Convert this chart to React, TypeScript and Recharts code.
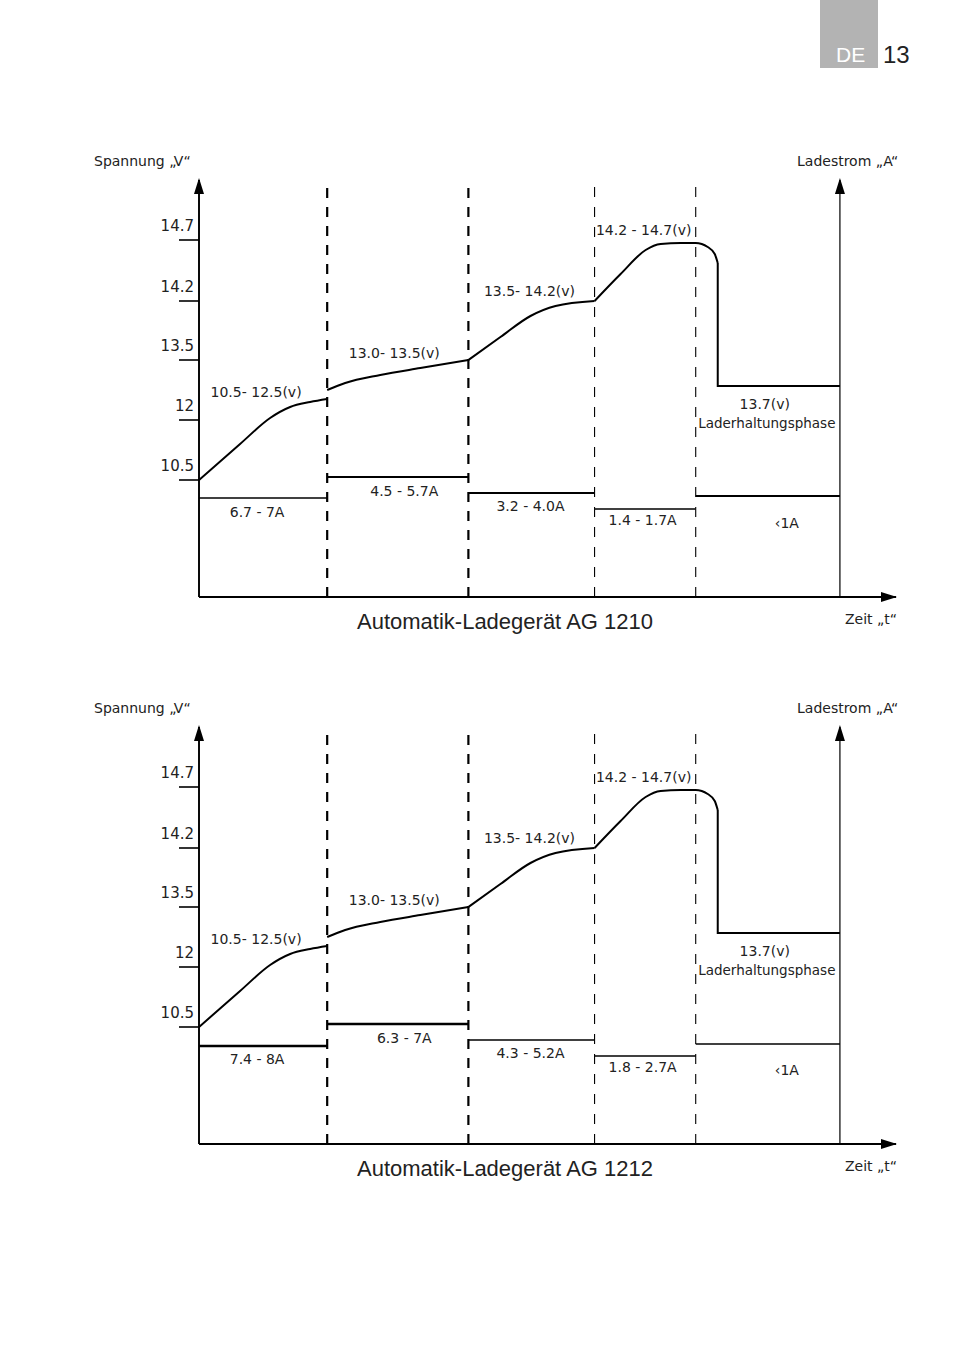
import React from 'react';
import { ComposedChart, Line, XAxis, YAxis, ReferenceLine, ReferenceDot } from 'recharts';

// time axis: 0..696, voltage/current level: 0..417 (schematic units)
const stepEdges = [0, 128, 269, 395, 496, 640];
const phaseBounds = [128, 269, 395, 496];
const voltTicks = [117, 177, 237, 296, 357];
const voltTickLabels = ['10.5', '12', '13.5', '14.2', '14.7'];

const voltSeg1 = [
  { x: 0, y: 117 }, { x: 41, y: 153 }, { x: 71, y: 179 }, { x: 91, y: 190 }, { x: 111, y: 195 }, { x: 128, y: 198 },
];
const voltSeg2 = [
  { x: 128, y: 207 }, { x: 146, y: 214 }, { x: 181, y: 222 }, { x: 221, y: 229 }, { x: 269, y: 237 },
];
const voltSeg3 = [
  { x: 269, y: 237 }, { x: 301, y: 260 }, { x: 331, y: 281 }, { x: 356, y: 291 }, { x: 395, y: 296 },
];
const voltSeg4 = [
  { x: 395, y: 296 }, { x: 421, y: 323 }, { x: 446, y: 347 }, { x: 461, y: 353 }, { x: 481, y: 354 },
  { x: 496, y: 354 }, { x: 508, y: 350 }, { x: 515, y: 343 }, { x: 518, y: 334 },
];
const voltSeg5 = [{ x: 518, y: 334 }, { x: 518, y: 211 }, { x: 640, y: 211 }];

const voltLabels = ['10.5- 12.5(v)', '13.0- 13.5(v)', '13.5- 14.2(v)', '14.2 - 14.7(v)', '13.7(v)', 'Laderhaltungsphase'];
const voltLabelX = [57, 195, 330, 444, 565, 567];
const voltLabelY = [205, 244, 306, 367, 193, 174];

const currentLabelX = [58, 205, 331, 443, 587];
const currentLabelY = [85, 106, 91, 77, 74];

const current1210 = [99, 120, 104, 88, 101];
const currentLabels1210 = ['6.7 - 7A', '4.5 - 5.7A', '3.2 - 4.0A', '1.4 - 1.7A', '‹1A'];
const current1212 = [98, 120, 104, 88, 100];
const currentLabels1212 = ['7.4 - 8A', '6.3 - 7A', '4.3 - 5.2A', '1.8 - 2.7A', '‹1A'];

const FONT = '"DejaVu Sans", sans-serif';
const TITLE_FONT = '"Liberation Sans", Arial, sans-serif';

const VoltTick = ({ x, y, payload }: any) => {
  const i = voltTicks.indexOf(payload.value);
  return (
    <text x={x + 15} y={y - 14} textAnchor="end" dominantBaseline="central" fontSize={15} fontFamily={FONT} fill="#222">
      {voltTickLabels[i]}
    </text>
  );
};

const textShape = (txt: string, size = 14) => (p: any) => (
  <text x={p.cx} y={p.cy} textAnchor="middle" dominantBaseline="central" fontSize={size} fontFamily={FONT} fill="#222">
    {txt}
  </text>
);

const upArrow = (p: any) => (
  <polygon points={`${p.cx},${p.cy - 2} ${p.cx - 5},${p.cy + 14} ${p.cx + 5},${p.cy + 14}`} fill="#000" />
);
const rightArrow = (p: any) => (
  <polygon points={`${p.cx + 1},${p.cy} ${p.cx - 15},${p.cy - 5} ${p.cx - 15},${p.cy + 5}`} fill="#000" />
);

function ChargeChart({ current, currentLabels, stepWidths, title, top }: any) {
  const steps = current.map((v: number, i: number) => [
    { x: stepEdges[i], y: v },
    { x: stepEdges[i + 1], y: v },
  ]);
  const txt: React.CSSProperties = { position: 'absolute', fontFamily: FONT, color: '#222', whiteSpace: 'nowrap' };
  return (
    <div style={{ position: 'absolute', left: 0, top, width: 954, height: 650 }}>
      <ComposedChart width={954} height={650} margin={{ top: 180, right: 58, bottom: 52, left: 198 }}>
        <XAxis type="number" dataKey="x" domain={[0, 696]} height={1} tick={false} tickLine={false}
          axisLine={{ stroke: '#000', strokeWidth: 2 }} allowDataOverflow />
        <YAxis type="number" dataKey="y" domain={[0, 417]} width={1} ticks={voltTicks} tick={<VoltTick />}
          tickSize={20} tickMargin={0} tickLine={{ stroke: '#000', strokeWidth: 1.6 }}
          axisLine={{ stroke: '#000', strokeWidth: 1.6 }} allowDataOverflow interval={0} />
        <ReferenceLine x={0} stroke="#000" strokeWidth={1.6} />
        <ReferenceLine y={0} stroke="#000" strokeWidth={2} />
        {phaseBounds.map((b, i) => (
          <ReferenceLine key={b} x={b} stroke="#000" strokeWidth={i < 2 ? 2.2 : 1.1}
            strokeDasharray={i < 2 ? '10 9' : '10 10'} />
        ))}
        <ReferenceLine x={640} stroke="#000" strokeWidth={1.2} />
        {[voltSeg1, voltSeg2, voltSeg3, voltSeg4].map((seg, i) => (
          <Line key={'v' + i} data={seg} dataKey="y" type="monotone" stroke="#000" strokeWidth={2}
            dot={false} activeDot={false} isAnimationActive={false} />
        ))}
        <Line data={voltSeg5} dataKey="y" type="linear" stroke="#000" strokeWidth={2}
          dot={false} activeDot={false} isAnimationActive={false} />
        {steps.map((seg: any, i: number) => (
          <Line key={'c' + i} data={seg} dataKey="y" type="linear" stroke="#000" strokeWidth={stepWidths[i]}
            dot={false} activeDot={false} isAnimationActive={false} />
        ))}
        {voltLabels.map((l, i) => (
          <ReferenceDot key={'vl' + i} x={voltLabelX[i]} y={voltLabelY[i]} r={0}
            shape={textShape(l, i === 5 ? 13.5 : 14)} />
        ))}
        {currentLabels.map((l: string, i: number) => (
          <ReferenceDot key={'cl' + i} x={currentLabelX[i]} y={currentLabelY[i]} r={0} shape={textShape(l)} />
        ))}
        <ReferenceDot x={0} y={417} r={0} shape={upArrow} />
        <ReferenceDot x={640} y={417} r={0} shape={upArrow} />
        <ReferenceDot x={696} y={0} r={0} shape={rightArrow} />
      </ComposedChart>
      <div style={{ ...txt, left: 94, top: 153, fontSize: 14 }}>Spannung „V“</div>
      <div style={{ ...txt, left: 797, top: 153, fontSize: 14 }}>Ladestrom „A“</div>
      <div style={{ ...txt, left: 845, top: 611, fontSize: 14 }}>Zeit „t“</div>
      <div style={{ ...txt, left: 357, top: 609, fontSize: 22, fontFamily: TITLE_FONT }}>{title}</div>
    </div>
  );
}

export default function App() {
  return (
    <div style={{ position: 'absolute', left: 0, top: 0, width: 954, height: 1345, background: '#fff', overflow: 'hidden' }}>
      <div style={{ position: 'absolute', left: 820, top: 0, width: 58, height: 68, background: '#b3b3b3' }} />
      <div style={{ position: 'absolute', left: 836, top: 43, fontSize: 21, fontFamily: TITLE_FONT, color: '#fff' }}>DE</div>
      <div style={{ position: 'absolute', left: 883, top: 41, fontSize: 24, fontFamily: TITLE_FONT, color: '#222' }}>13</div>
      <ChargeChart current={current1210} currentLabels={currentLabels1210} stepWidths={[1.4, 2.2, 2.2, 1.4, 2.2]}
        title="Automatik-Ladegerät AG 1210" top={0} />
      <ChargeChart current={current1212} currentLabels={currentLabels1212} stepWidths={[2.5, 2.5, 1.4, 1.4, 1.4]}
        title="Automatik-Ladegerät AG 1212" top={547} />
    </div>
  );
}
